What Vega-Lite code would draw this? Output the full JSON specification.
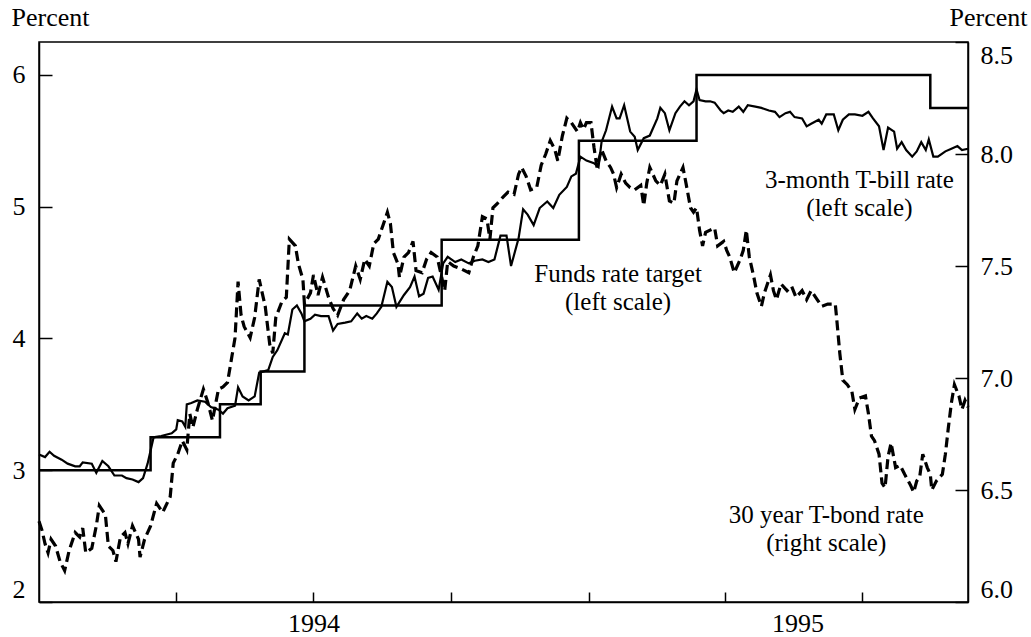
{
"$schema":"https://vega.github.io/schema/vega-lite/v6.json",
"width":929,"height":560,
"autosize":{"type":"none"},
"padding":{"left":39,"top":42,"right":63,"bottom":35},
"background":"white",
"config":{
"font":"Liberation Serif",
"view":{"stroke":"black","strokeWidth":1.5},
"axis":{"grid":false,"domainColor":"black","domainWidth":1.5,"tickColor":"black","tickWidth":1.5,"labelFont":"Liberation Serif","labelFontSize":26,"labelColor":"black","titleFont":"Liberation Serif","titleFontSize":26,"titleFontWeight":"normal","titleColor":"black"}
},
"datasets":{
"target":[{"d":"1993-11-22","v":3.00},{"d":"1994-02-04","v":3.25},{"d":"1994-03-22","v":3.50},{"d":"1994-04-18","v":3.75},{"d":"1994-05-17","v":4.25},{"d":"1994-08-16","v":4.75},{"d":"1994-11-15","v":5.50},{"d":"1995-02-01","v":6.00},{"d":"1995-07-06","v":5.75},{"d":"1995-07-31","v":5.75}],
"tbill":[{"d":"1993-11-22","v":3.12},{"d":"1993-11-26","v":3.10},{"d":"1993-11-29","v":3.14},{"d":"1993-12-02","v":3.11},{"d":"1993-12-07","v":3.08},{"d":"1993-12-11","v":3.05},{"d":"1993-12-16","v":3.03},{"d":"1993-12-19","v":3.03},{"d":"1993-12-21","v":3.06},{"d":"1993-12-27","v":3.05},{"d":"1993-12-30","v":2.98},{"d":"1994-01-03","v":3.07},{"d":"1994-01-07","v":3.03},{"d":"1994-01-11","v":2.96},{"d":"1994-01-16","v":2.96},{"d":"1994-01-19","v":2.94},{"d":"1994-01-23","v":2.93},{"d":"1994-01-27","v":2.91},{"d":"1994-01-30","v":2.94},{"d":"1994-02-02","v":3.05},{"d":"1994-02-06","v":3.25},{"d":"1994-02-11","v":3.26},{"d":"1994-02-18","v":3.28},{"d":"1994-02-21","v":3.31},{"d":"1994-02-22","v":3.38},{"d":"1994-02-25","v":3.37},{"d":"1994-02-27","v":3.33},{"d":"1994-02-28","v":3.50},{"d":"1994-03-03","v":3.51},{"d":"1994-03-07","v":3.53},{"d":"1994-03-12","v":3.52},{"d":"1994-03-16","v":3.48},{"d":"1994-03-21","v":3.46},{"d":"1994-03-24","v":3.43},{"d":"1994-03-27","v":3.47},{"d":"1994-04-01","v":3.49},{"d":"1994-04-03","v":3.63},{"d":"1994-04-06","v":3.56},{"d":"1994-04-10","v":3.53},{"d":"1994-04-14","v":3.56},{"d":"1994-04-17","v":3.74},{"d":"1994-04-23","v":3.76},{"d":"1994-04-26","v":3.86},{"d":"1994-04-29","v":3.91},{"d":"1994-05-04","v":4.04},{"d":"1994-05-06","v":4.03},{"d":"1994-05-09","v":4.22},{"d":"1994-05-12","v":4.25},{"d":"1994-05-15","v":4.19},{"d":"1994-05-17","v":4.13},{"d":"1994-05-21","v":4.15},{"d":"1994-05-24","v":4.18},{"d":"1994-05-28","v":4.17},{"d":"1994-06-02","v":4.17},{"d":"1994-06-05","v":4.06},{"d":"1994-06-08","v":4.11},{"d":"1994-06-13","v":4.12},{"d":"1994-06-17","v":4.13},{"d":"1994-06-21","v":4.19},{"d":"1994-06-24","v":4.15},{"d":"1994-06-27","v":4.17},{"d":"1994-07-01","v":4.15},{"d":"1994-07-04","v":4.19},{"d":"1994-07-07","v":4.24},{"d":"1994-07-11","v":4.43},{"d":"1994-07-14","v":4.39},{"d":"1994-07-17","v":4.24},{"d":"1994-07-22","v":4.33},{"d":"1994-07-26","v":4.39},{"d":"1994-07-29","v":4.47},{"d":"1994-08-01","v":4.32},{"d":"1994-08-04","v":4.34},{"d":"1994-08-07","v":4.46},{"d":"1994-08-10","v":4.47},{"d":"1994-08-14","v":4.37},{"d":"1994-08-17","v":4.57},{"d":"1994-08-20","v":4.62},{"d":"1994-08-25","v":4.58},{"d":"1994-08-29","v":4.60},{"d":"1994-09-03","v":4.57},{"d":"1994-09-07","v":4.59},{"d":"1994-09-12","v":4.60},{"d":"1994-09-16","v":4.58},{"d":"1994-09-20","v":4.60},{"d":"1994-09-24","v":4.78},{"d":"1994-09-28","v":4.78},{"d":"1994-10-01","v":4.55},{"d":"1994-10-06","v":4.76},{"d":"1994-10-09","v":4.98},{"d":"1994-10-12","v":4.94},{"d":"1994-10-16","v":4.86},{"d":"1994-10-20","v":4.99},{"d":"1994-10-25","v":5.04},{"d":"1994-10-29","v":4.99},{"d":"1994-11-02","v":5.09},{"d":"1994-11-07","v":5.15},{"d":"1994-11-10","v":5.23},{"d":"1994-11-13","v":5.25},{"d":"1994-11-16","v":5.38},{"d":"1994-11-20","v":5.35},{"d":"1994-11-25","v":5.33},{"d":"1994-11-28","v":5.30},{"d":"1994-11-30","v":5.49},{"d":"1994-12-03","v":5.58},{"d":"1994-12-07","v":5.76},{"d":"1994-12-10","v":5.67},{"d":"1994-12-12","v":5.67},{"d":"1994-12-15","v":5.77},{"d":"1994-12-19","v":5.57},{"d":"1994-12-22","v":5.53},{"d":"1994-12-24","v":5.43},{"d":"1994-12-28","v":5.52},{"d":"1995-01-01","v":5.54},{"d":"1995-01-06","v":5.67},{"d":"1995-01-08","v":5.75},{"d":"1995-01-11","v":5.71},{"d":"1995-01-14","v":5.58},{"d":"1995-01-18","v":5.71},{"d":"1995-01-21","v":5.76},{"d":"1995-01-24","v":5.80},{"d":"1995-01-27","v":5.77},{"d":"1995-01-30","v":5.80},{"d":"1995-02-01","v":5.89},{"d":"1995-02-03","v":5.81},{"d":"1995-02-07","v":5.80},{"d":"1995-02-10","v":5.80},{"d":"1995-02-13","v":5.79},{"d":"1995-02-17","v":5.73},{"d":"1995-02-19","v":5.71},{"d":"1995-02-22","v":5.73},{"d":"1995-02-25","v":5.72},{"d":"1995-03-01","v":5.76},{"d":"1995-03-04","v":5.72},{"d":"1995-03-07","v":5.77},{"d":"1995-03-12","v":5.76},{"d":"1995-03-16","v":5.75},{"d":"1995-03-21","v":5.73},{"d":"1995-03-25","v":5.72},{"d":"1995-03-28","v":5.68},{"d":"1995-04-01","v":5.71},{"d":"1995-04-04","v":5.72},{"d":"1995-04-07","v":5.68},{"d":"1995-04-12","v":5.67},{"d":"1995-04-15","v":5.61},{"d":"1995-04-18","v":5.63},{"d":"1995-04-23","v":5.66},{"d":"1995-04-25","v":5.63},{"d":"1995-04-28","v":5.70},{"d":"1995-05-03","v":5.70},{"d":"1995-05-06","v":5.58},{"d":"1995-05-09","v":5.66},{"d":"1995-05-13","v":5.70},{"d":"1995-05-17","v":5.70},{"d":"1995-05-22","v":5.69},{"d":"1995-05-26","v":5.72},{"d":"1995-05-29","v":5.67},{"d":"1995-06-02","v":5.61},{"d":"1995-06-05","v":5.43},{"d":"1995-06-08","v":5.60},{"d":"1995-06-12","v":5.57},{"d":"1995-06-14","v":5.44},{"d":"1995-06-17","v":5.49},{"d":"1995-06-20","v":5.43},{"d":"1995-06-24","v":5.38},{"d":"1995-06-27","v":5.42},{"d":"1995-06-30","v":5.49},{"d":"1995-07-03","v":5.43},{"d":"1995-07-05","v":5.51},{"d":"1995-07-08","v":5.38},{"d":"1995-07-11","v":5.38},{"d":"1995-07-16","v":5.42},{"d":"1995-07-20","v":5.44},{"d":"1995-07-24","v":5.46},{"d":"1995-07-27","v":5.43},{"d":"1995-07-31","v":5.44}],
"bond":[{"d":"1993-11-22","v":6.36},{"d":"1993-11-24","v":6.32},{"d":"1993-11-26","v":6.26},{"d":"1993-11-28","v":6.22},{"d":"1993-11-30","v":6.28},{"d":"1993-12-03","v":6.25},{"d":"1993-12-06","v":6.18},{"d":"1993-12-09","v":6.14},{"d":"1993-12-12","v":6.23},{"d":"1993-12-16","v":6.31},{"d":"1993-12-19","v":6.29},{"d":"1993-12-21","v":6.33},{"d":"1993-12-23","v":6.22},{"d":"1993-12-27","v":6.24},{"d":"1993-12-30","v":6.34},{"d":"1994-01-01","v":6.43},{"d":"1994-01-05","v":6.39},{"d":"1994-01-07","v":6.25},{"d":"1994-01-10","v":6.23},{"d":"1994-01-12","v":6.18},{"d":"1994-01-15","v":6.29},{"d":"1994-01-18","v":6.31},{"d":"1994-01-20","v":6.26},{"d":"1994-01-23","v":6.34},{"d":"1994-01-27","v":6.28},{"d":"1994-01-28","v":6.20},{"d":"1994-01-31","v":6.28},{"d":"1994-02-04","v":6.34},{"d":"1994-02-08","v":6.44},{"d":"1994-02-12","v":6.40},{"d":"1994-02-17","v":6.47},{"d":"1994-02-19","v":6.62},{"d":"1994-02-22","v":6.66},{"d":"1994-02-25","v":6.72},{"d":"1994-02-28","v":6.68},{"d":"1994-03-02","v":6.84},{"d":"1994-03-04","v":6.78},{"d":"1994-03-07","v":6.86},{"d":"1994-03-11","v":6.95},{"d":"1994-03-14","v":6.89},{"d":"1994-03-17","v":6.81},{"d":"1994-03-21","v":6.95},{"d":"1994-03-24","v":6.96},{"d":"1994-03-27","v":6.98},{"d":"1994-03-30","v":7.10},{"d":"1994-04-01","v":7.18},{"d":"1994-04-03","v":7.43},{"d":"1994-04-05","v":7.28},{"d":"1994-04-07","v":7.23},{"d":"1994-04-11","v":7.18},{"d":"1994-04-14","v":7.27},{"d":"1994-04-17","v":7.44},{"d":"1994-04-21","v":7.32},{"d":"1994-04-24","v":7.15},{"d":"1994-04-26","v":7.11},{"d":"1994-04-28","v":7.27},{"d":"1994-05-02","v":7.34},{"d":"1994-05-05","v":7.36},{"d":"1994-05-07","v":7.62},{"d":"1994-05-11","v":7.59},{"d":"1994-05-13","v":7.51},{"d":"1994-05-16","v":7.44},{"d":"1994-05-17","v":7.33},{"d":"1994-05-21","v":7.38},{"d":"1994-05-23","v":7.46},{"d":"1994-05-26","v":7.37},{"d":"1994-05-29","v":7.45},{"d":"1994-06-02","v":7.36},{"d":"1994-06-05","v":7.31},{"d":"1994-06-08","v":7.28},{"d":"1994-06-12","v":7.35},{"d":"1994-06-16","v":7.39},{"d":"1994-06-20","v":7.50},{"d":"1994-06-23","v":7.44},{"d":"1994-06-26","v":7.53},{"d":"1994-06-29","v":7.50},{"d":"1994-07-02","v":7.60},{"d":"1994-07-05","v":7.62},{"d":"1994-07-08","v":7.68},{"d":"1994-07-11","v":7.74},{"d":"1994-07-13","v":7.69},{"d":"1994-07-15","v":7.56},{"d":"1994-07-18","v":7.51},{"d":"1994-07-19","v":7.45},{"d":"1994-07-22","v":7.54},{"d":"1994-07-25","v":7.56},{"d":"1994-07-28","v":7.61},{"d":"1994-07-30","v":7.48},{"d":"1994-08-03","v":7.47},{"d":"1994-08-06","v":7.53},{"d":"1994-08-09","v":7.56},{"d":"1994-08-13","v":7.54},{"d":"1994-08-16","v":7.45},{"d":"1994-08-18","v":7.39},{"d":"1994-08-20","v":7.52},{"d":"1994-08-24","v":7.50},{"d":"1994-08-28","v":7.49},{"d":"1994-09-03","v":7.47},{"d":"1994-09-06","v":7.54},{"d":"1994-09-09","v":7.59},{"d":"1994-09-12","v":7.72},{"d":"1994-09-15","v":7.71},{"d":"1994-09-17","v":7.62},{"d":"1994-09-19","v":7.76},{"d":"1994-09-22","v":7.78},{"d":"1994-09-26","v":7.81},{"d":"1994-09-29","v":7.83},{"d":"1994-10-03","v":7.82},{"d":"1994-10-06","v":7.91},{"d":"1994-10-08","v":7.94},{"d":"1994-10-11","v":7.90},{"d":"1994-10-14","v":7.84},{"d":"1994-10-18","v":7.85},{"d":"1994-10-21","v":7.95},{"d":"1994-10-24","v":8.00},{"d":"1994-10-27","v":8.06},{"d":"1994-10-30","v":8.02},{"d":"1994-11-01","v":7.97},{"d":"1994-11-04","v":8.08},{"d":"1994-11-07","v":8.16},{"d":"1994-11-10","v":8.14},{"d":"1994-11-14","v":8.10},{"d":"1994-11-16","v":8.14},{"d":"1994-11-18","v":8.11},{"d":"1994-11-20","v":8.14},{"d":"1994-11-23","v":8.14},{"d":"1994-11-25","v":8.03},{"d":"1994-11-27","v":7.94},{"d":"1994-11-30","v":8.02},{"d":"1994-12-03","v":7.97},{"d":"1994-12-06","v":7.94},{"d":"1994-12-08","v":7.91},{"d":"1994-12-10","v":7.85},{"d":"1994-12-13","v":7.91},{"d":"1994-12-16","v":7.87},{"d":"1994-12-19","v":7.85},{"d":"1994-12-22","v":7.84},{"d":"1994-12-26","v":7.86},{"d":"1994-12-28","v":7.77},{"d":"1994-12-30","v":7.87},{"d":"1995-01-01","v":7.94},{"d":"1995-01-05","v":7.88},{"d":"1995-01-08","v":7.86},{"d":"1995-01-11","v":7.91},{"d":"1995-01-14","v":7.79},{"d":"1995-01-17","v":7.78},{"d":"1995-01-19","v":7.88},{"d":"1995-01-21","v":7.91},{"d":"1995-01-23","v":7.94},{"d":"1995-01-25","v":7.87},{"d":"1995-01-28","v":7.76},{"d":"1995-01-30","v":7.74},{"d":"1995-02-01","v":7.76},{"d":"1995-02-03","v":7.66},{"d":"1995-02-05","v":7.59},{"d":"1995-02-07","v":7.65},{"d":"1995-02-10","v":7.66},{"d":"1995-02-13","v":7.67},{"d":"1995-02-15","v":7.59},{"d":"1995-02-19","v":7.61},{"d":"1995-02-21","v":7.57},{"d":"1995-02-23","v":7.54},{"d":"1995-02-26","v":7.47},{"d":"1995-03-02","v":7.53},{"d":"1995-03-04","v":7.57},{"d":"1995-03-06","v":7.66},{"d":"1995-03-08","v":7.54},{"d":"1995-03-11","v":7.45},{"d":"1995-03-13","v":7.38},{"d":"1995-03-16","v":7.32},{"d":"1995-03-18","v":7.38},{"d":"1995-03-22","v":7.46},{"d":"1995-03-24","v":7.39},{"d":"1995-03-26","v":7.35},{"d":"1995-03-29","v":7.42},{"d":"1995-04-02","v":7.39},{"d":"1995-04-05","v":7.41},{"d":"1995-04-08","v":7.36},{"d":"1995-04-12","v":7.39},{"d":"1995-04-15","v":7.35},{"d":"1995-04-18","v":7.39},{"d":"1995-04-22","v":7.35},{"d":"1995-04-25","v":7.32},{"d":"1995-04-29","v":7.33},{"d":"1995-05-04","v":7.33},{"d":"1995-05-05","v":7.26},{"d":"1995-05-07","v":7.11},{"d":"1995-05-09","v":6.99},{"d":"1995-05-12","v":6.97},{"d":"1995-05-15","v":6.94},{"d":"1995-05-17","v":6.86},{"d":"1995-05-20","v":6.91},{"d":"1995-05-24","v":6.92},{"d":"1995-05-26","v":6.84},{"d":"1995-05-28","v":6.74},{"d":"1995-05-30","v":6.72},{"d":"1995-06-02","v":6.66},{"d":"1995-06-04","v":6.53},{"d":"1995-06-06","v":6.51},{"d":"1995-06-08","v":6.65},{"d":"1995-06-10","v":6.71},{"d":"1995-06-13","v":6.60},{"d":"1995-06-16","v":6.61},{"d":"1995-06-19","v":6.57},{"d":"1995-06-23","v":6.52},{"d":"1995-06-25","v":6.49},{"d":"1995-06-27","v":6.54},{"d":"1995-06-29","v":6.56},{"d":"1995-07-01","v":6.66},{"d":"1995-07-04","v":6.60},{"d":"1995-07-06","v":6.57},{"d":"1995-07-07","v":6.50},{"d":"1995-07-10","v":6.54},{"d":"1995-07-14","v":6.57},{"d":"1995-07-16","v":6.66},{"d":"1995-07-18","v":6.78},{"d":"1995-07-20","v":6.89},{"d":"1995-07-22","v":6.97},{"d":"1995-07-25","v":6.92},{"d":"1995-07-27","v":6.86},{"d":"1995-07-29","v":6.90},{"d":"1995-07-31","v":6.87}],
"notes":[{"d":"1995-05-20","v":5.199,"t":"3-month T-bill rate\n(left scale)"},{"d":"1994-12-11","v":4.493,"t":"Funds rate target\n(left scale)"},{"d":"1995-04-28","v":2.657,"t":"30 year T-bond rate\n(right scale)"}]
},
"encoding":{
"x":{"field":"d","type":"temporal",
"scale":{"type":"utc","domain":[{"year":1993,"month":11,"date":22,"utc":true},{"year":1995,"month":7,"date":31,"utc":true}]},
"axis":{"title":null,"values":[{"year":1994,"month":2,"date":21,"utc":true},{"year":1994,"month":5,"date":23,"utc":true},{"year":1994,"month":8,"date":22,"utc":true},{"year":1994,"month":11,"date":22,"utc":true},{"year":1995,"month":2,"date":20,"utc":true},{"year":1995,"month":4,"date":9,"utc":true},{"year":1995,"month":5,"date":22,"utc":true}],
"labelExpr":"utcFormat(datum.value,'%Y-%m') == '1994-05' ? '1994' : (utcFormat(datum.value,'%Y-%m') == '1995-04' ? '1995' : '')",
"tickOpacity":{"condition":{"test":"utcFormat(datum.value,'%Y-%m') == '1995-04'","value":0},"value":1},
"tickSize":-10,"labelPadding":18,"labelOverlap":false,"labelFlush":false}}
},
"layer":[
{"encoding":{"y":{"field":"v","type":"quantitative","scale":{"domain":[2,6.25],"nice":false,"zero":false},
"axis":{"orient":"left","values":[2,3,4,5,6],"format":"d","tickSize":-13,"labelPadding":27,"labelFlush":true,
"title":"Percent","titleAngle":0,"titleAlign":"left","titleBaseline":"middle","titleX":-28,"titleY":-25}}},
"layer":[
{"data":{"name":"target"},"mark":{"type":"line","interpolate":"step-after","color":"black","strokeWidth":2.5}},
{"data":{"name":"tbill"},"mark":{"type":"line","color":"black","strokeWidth":2.2}},
{"data":{"name":"notes"},"mark":{"type":"text","font":"Liberation Serif","fontSize":25,"lineHeight":28,"lineBreak":"\n","color":"black","align":"center","baseline":"middle"},"encoding":{"text":{"field":"t"}}}
]},
{"data":{"name":"bond"},
"mark":{"type":"line","color":"black","strokeWidth":3.2,"strokeDash":[10,5]},
"encoding":{"y":{"field":"v","type":"quantitative","scale":{"domain":[6,8.5],"nice":false,"zero":false},
"axis":{"orient":"right","values":[6,6.5,7,7.5,8,8.5],"format":".1f","tickSize":-13,"labelPadding":25,"labelFlush":true,
"title":"Percent","titleAngle":0,"titleAlign":"right","titleBaseline":"middle","titleX":59,"titleY":-25}}}}
],
"resolve":{"scale":{"y":"independent"}}
}
